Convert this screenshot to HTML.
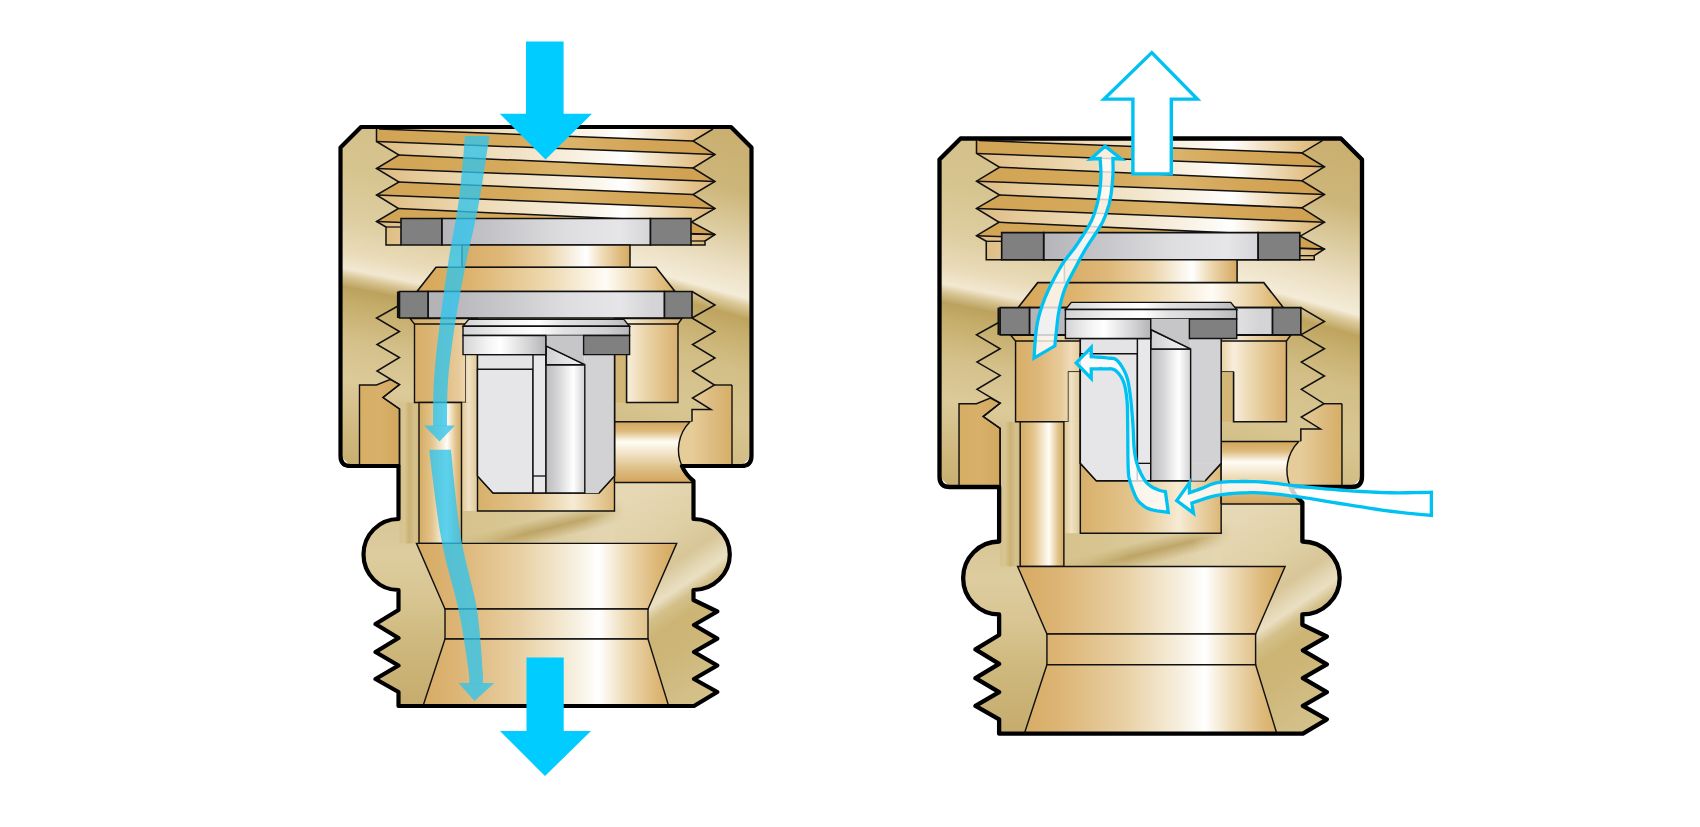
<!DOCTYPE html>
<html><head><meta charset="utf-8"><title>Vacuum breaker</title>
<style>html,body{margin:0;padding:0;background:#fff;width:1700px;height:827px;overflow:hidden;font-family:"Liberation Sans",sans-serif}svg{display:block}</style>
</head><body>
<svg width="1700" height="827" viewBox="0 0 1700 827">
<defs><linearGradient id="gCapL" gradientUnits="userSpaceOnUse" x1="379.3" y1="91.4" x2="304.8" y2="464.2"><stop offset="0" stop-color="#D2BC86"/><stop offset="0.21" stop-color="#D6C48E"/><stop offset="0.342" stop-color="#DECDA0"/><stop offset="0.434" stop-color="#EADCBA"/><stop offset="0.474" stop-color="#F2E8D2"/><stop offset="0.495" stop-color="#D8C494"/><stop offset="0.521" stop-color="#BBA25E"/><stop offset="0.566" stop-color="#C6AE6C"/><stop offset="0.658" stop-color="#D4C08A"/><stop offset="0.763" stop-color="#DCCA9A"/><stop offset="0.895" stop-color="#D0B87E"/><stop offset="1" stop-color="#C6AC6C"/></linearGradient><linearGradient id="gCapR" gradientUnits="userSpaceOnUse" x1="705.5" y1="110.2" x2="601.1" y2="486"><stop offset="0" stop-color="#C8AE6E"/><stop offset="0.179" stop-color="#CDB67A"/><stop offset="0.282" stop-color="#DCCCA0"/><stop offset="0.372" stop-color="#ECE0C4"/><stop offset="0.436" stop-color="#F4ECD8"/><stop offset="0.456" stop-color="#DCCA9C"/><stop offset="0.487" stop-color="#BEA45E"/><stop offset="0.538" stop-color="#C8B070"/><stop offset="0.615" stop-color="#D2BE86"/><stop offset="0.744" stop-color="#D8C692"/><stop offset="0.897" stop-color="#CFB87E"/><stop offset="1" stop-color="#C8AE70"/></linearGradient><linearGradient id="gLowL" gradientUnits="userSpaceOnUse" x1="0" y1="466" x2="0" y2="706"><stop offset="0" stop-color="#D4C08A"/><stop offset="0.22" stop-color="#D8C696"/><stop offset="0.37" stop-color="#DDCC9E"/><stop offset="0.55" stop-color="#D8C592"/><stop offset="0.72" stop-color="#CFB97E"/><stop offset="0.92" stop-color="#C8AF72"/><stop offset="1" stop-color="#C6AC6E"/></linearGradient><linearGradient id="gLowR" gradientUnits="userSpaceOnUse" x1="552.8" y1="458.17" x2="727.11" y2="714.54"><stop offset="0" stop-color="#E4D6B0"/><stop offset="0.242" stop-color="#E6D8B4"/><stop offset="0.403" stop-color="#DFD0A6"/><stop offset="0.5" stop-color="#D8C698"/><stop offset="0.55" stop-color="#E4D8B6"/><stop offset="0.575" stop-color="#EADFC2"/><stop offset="0.61" stop-color="#D4C08A"/><stop offset="0.66" stop-color="#CBB474"/><stop offset="0.74" stop-color="#CDB678"/><stop offset="0.86" stop-color="#D2BE86"/><stop offset="1" stop-color="#D8C490"/></linearGradient><linearGradient id="gIn" gradientUnits="userSpaceOnUse" x1="462" y1="0" x2="614.5" y2="0"><stop offset="0" stop-color="#D6C28C"/><stop offset="0.3" stop-color="#D8C692"/><stop offset="0.6" stop-color="#DCCCA0"/><stop offset="0.85" stop-color="#E2D4AE"/><stop offset="1" stop-color="#E4D6B0"/></linearGradient><linearGradient id="gStreak" gradientUnits="userSpaceOnUse" x1="542.11" y1="515.52" x2="548.89" y2="542.68"><stop offset="0" stop-color="#B89C58"/><stop offset="0.3" stop-color="#C0A562"/><stop offset="0.55" stop-color="#B89C58"/><stop offset="1" stop-color="#B89C58"/></linearGradient><linearGradient id="gStreakA" gradientUnits="userSpaceOnUse" x1="542.59" y1="517.46" x2="548.41" y2="540.74"><stop offset="0" stop-color="#B49854" stop-opacity="0"/><stop offset="0.5" stop-color="#B49854" stop-opacity="0.75"/><stop offset="1" stop-color="#B49854" stop-opacity="0"/></linearGradient><linearGradient id="gStreakL" gradientUnits="userSpaceOnUse" x1="470" y1="0" x2="625" y2="0"><stop offset="0" stop-color="#fff" stop-opacity="0.2"/><stop offset="0.35" stop-color="#fff" stop-opacity="1"/><stop offset="0.75" stop-color="#fff" stop-opacity="1"/><stop offset="1" stop-color="#fff" stop-opacity="0"/></linearGradient><linearGradient id="gThL" gradientUnits="userSpaceOnUse" x1="376" y1="0" x2="716" y2="0"><stop offset="0" stop-color="#DCBA80"/><stop offset="0.1" stop-color="#E4C794"/><stop offset="0.3" stop-color="#EEDAB4"/><stop offset="0.5" stop-color="#F4E8D2"/><stop offset="0.65" stop-color="#FBF6EC"/><stop offset="0.73" stop-color="#FFFFFF"/><stop offset="0.82" stop-color="#F2E2C6"/><stop offset="0.92" stop-color="#E4C690"/><stop offset="1" stop-color="#DAB070"/></linearGradient><linearGradient id="gThD" gradientUnits="userSpaceOnUse" x1="376" y1="0" x2="716" y2="0"><stop offset="0" stop-color="#D2A455"/><stop offset="0.4" stop-color="#D6AA5C"/><stop offset="0.55" stop-color="#DBB46C"/><stop offset="0.75" stop-color="#D4A658"/><stop offset="1" stop-color="#CFA050"/></linearGradient><linearGradient id="gNeck" gradientUnits="userSpaceOnUse" x1="462" y1="0" x2="630" y2="0"><stop offset="0" stop-color="#D8AC66"/><stop offset="0.25" stop-color="#DFB879"/><stop offset="0.5" stop-color="#EBD3A8"/><stop offset="0.66" stop-color="#F8F0E2"/><stop offset="0.74" stop-color="#FFFFFF"/><stop offset="0.84" stop-color="#EEDAB4"/><stop offset="1" stop-color="#D5A860"/></linearGradient><linearGradient id="gCone" gradientUnits="userSpaceOnUse" x1="417" y1="0" x2="675" y2="0"><stop offset="0" stop-color="#D6A658"/><stop offset="0.2" stop-color="#DDB26C"/><stop offset="0.5" stop-color="#EDD8AE"/><stop offset="0.73" stop-color="#FFFCF6"/><stop offset="0.88" stop-color="#EBD3A6"/><stop offset="1" stop-color="#D8AC60"/></linearGradient><linearGradient id="gFun" gradientUnits="userSpaceOnUse" x1="416" y1="0" x2="677" y2="0"><stop offset="0" stop-color="#D6AA62"/><stop offset="0.15" stop-color="#DCB474"/><stop offset="0.4" stop-color="#E8D0A4"/><stop offset="0.6" stop-color="#F6EEDC"/><stop offset="0.7" stop-color="#FFFFFF"/><stop offset="0.8" stop-color="#EEDCB8"/><stop offset="0.92" stop-color="#DDB878"/><stop offset="1" stop-color="#D4A85E"/></linearGradient><linearGradient id="gTube" gradientUnits="userSpaceOnUse" x1="419" y1="0" x2="462" y2="0"><stop offset="0" stop-color="#D5AC62"/><stop offset="0.3" stop-color="#E3C48C"/><stop offset="0.65" stop-color="#FFFDF6"/><stop offset="0.85" stop-color="#E2C58E"/><stop offset="1" stop-color="#D3A85E"/></linearGradient><linearGradient id="gWallL" gradientUnits="userSpaceOnUse" x1="414" y1="0" x2="478" y2="0"><stop offset="0" stop-color="#D8AE66"/><stop offset="0.35" stop-color="#DDB77A"/><stop offset="0.7" stop-color="#E8CB9A"/><stop offset="0.85" stop-color="#F0DCB8"/><stop offset="1" stop-color="#E5CC9C"/></linearGradient><linearGradient id="gWallR" gradientUnits="userSpaceOnUse" x1="614" y1="0" x2="678" y2="0"><stop offset="0" stop-color="#E8D0A0"/><stop offset="0.2" stop-color="#F8EEDC"/><stop offset="0.5" stop-color="#EAD4A8"/><stop offset="0.8" stop-color="#E0BE84"/><stop offset="1" stop-color="#D9B070"/></linearGradient><linearGradient id="gStrip" gradientUnits="userSpaceOnUse" x1="399.5" y1="0" x2="419" y2="0"><stop offset="0" stop-color="#D6C28E"/><stop offset="0.25" stop-color="#D8C592"/><stop offset="0.5" stop-color="#CAB274"/><stop offset="0.78" stop-color="#D6C08C"/><stop offset="1" stop-color="#D2BA80"/></linearGradient><linearGradient id="gGap" gradientUnits="userSpaceOnUse" x1="461" y1="0" x2="478" y2="0"><stop offset="0" stop-color="#DEC48E"/><stop offset="0.45" stop-color="#F0E2C4"/><stop offset="1" stop-color="#DCC794"/></linearGradient><linearGradient id="gPort" gradientUnits="userSpaceOnUse" x1="0" y1="422" x2="0" y2="482"><stop offset="0" stop-color="#D2A65C"/><stop offset="0.15" stop-color="#DDBA7C"/><stop offset="0.33" stop-color="#FFFDF6"/><stop offset="0.55" stop-color="#F0E0C0"/><stop offset="0.8" stop-color="#DCBC82"/><stop offset="1" stop-color="#D4A65E"/></linearGradient><linearGradient id="gLipL" gradientUnits="userSpaceOnUse" x1="359" y1="0" x2="400" y2="0"><stop offset="0" stop-color="#D6AE64"/><stop offset="0.5" stop-color="#D9B06A"/><stop offset="1" stop-color="#D2A85E"/></linearGradient><linearGradient id="gLipR" gradientUnits="userSpaceOnUse" x1="692" y1="0" x2="732" y2="0"><stop offset="0" stop-color="#E6CC98"/><stop offset="0.5" stop-color="#DDBC82"/><stop offset="1" stop-color="#D6AE66"/></linearGradient><linearGradient id="gCav" gradientUnits="userSpaceOnUse" x1="478" y1="0" x2="614" y2="0"><stop offset="0" stop-color="#D8B06A"/><stop offset="0.4" stop-color="#E4C690"/><stop offset="0.7" stop-color="#F6EBD4"/><stop offset="1" stop-color="#DCB878"/></linearGradient><linearGradient id="gWash" gradientUnits="userSpaceOnUse" x1="440" y1="0" x2="652" y2="0"><stop offset="0" stop-color="#B4B4B8"/><stop offset="0.3" stop-color="#C8C8CC"/><stop offset="0.6" stop-color="#DEDEE0"/><stop offset="0.85" stop-color="#E6E6E8"/><stop offset="1" stop-color="#D4D4D6"/></linearGradient><linearGradient id="gPcap" gradientUnits="userSpaceOnUse" x1="463" y1="0" x2="630" y2="0"><stop offset="0" stop-color="#D2D2D4"/><stop offset="0.25" stop-color="#F2F2F2"/><stop offset="0.45" stop-color="#FFFFFF"/><stop offset="0.6" stop-color="#E2E2E4"/><stop offset="0.85" stop-color="#D0D0D2"/><stop offset="1" stop-color="#B8B8BA"/></linearGradient><linearGradient id="gPleft" gradientUnits="userSpaceOnUse" x1="463" y1="0" x2="546" y2="0"><stop offset="0" stop-color="#D4D4D6"/><stop offset="0.3" stop-color="#F4F4F4"/><stop offset="0.45" stop-color="#FFFFFF"/><stop offset="0.8" stop-color="#D2D2D4"/><stop offset="1" stop-color="#B4B4B6"/></linearGradient><linearGradient id="gPin" gradientUnits="userSpaceOnUse" x1="546" y1="0" x2="585" y2="0"><stop offset="0" stop-color="#BDBDBF"/><stop offset="0.3" stop-color="#D4D4D6"/><stop offset="0.7" stop-color="#FFFFFF"/><stop offset="1" stop-color="#D0D0D2"/></linearGradient><linearGradient id="gPinTop" gradientUnits="userSpaceOnUse" x1="546" y1="0" x2="585" y2="0"><stop offset="0" stop-color="#CFCFD1"/><stop offset="0.5" stop-color="#E4E4E6"/><stop offset="1" stop-color="#F2F2F2"/></linearGradient></defs>
<rect width="1700" height="827" fill="#FFFFFF"/>
<g id="left"><path d="M340.5,147.5 L361,127 L546.5,127 L546.5,466 L350.5,466 L340.5,456 Z" fill="url(#gCapL)" stroke="none"/>
<path d="M545.5,127 L731,127 L751.5,147.5 L751.5,456 L741.5,466 L545.5,466 Z" fill="url(#gCapR)" stroke="none"/>
<clipPath id="cpLowL0"><rect x="300" y="440" width="246.5" height="300"/></clipPath>
<clipPath id="cpLowR0"><rect x="545.5" y="440" width="250" height="300"/></clipPath>
<path d="M398.5,465.5 L681.9,465.5 A39.8,39.8 0 0 0 693.5,481 L693.5,519 A36.3,35.5 0 0 1 693.5,590 L693.5,600 L717.3,611.5 L694,625 L717.3,638.6 L694,652 L717.3,665.5 L694,679 L717.3,692 L694,706 L398.5,706 L398.5,692 L375.5,679 L398.5,665.5 L375.5,652 L398.5,638 L375.5,624 L398.5,610 L398.5,590 A35,35.5 0 0 1 398.5,519 Z" fill="url(#gLowL)" clip-path="url(#cpLowL0)"/>
<path d="M398.5,465.5 L681.9,465.5 A39.8,39.8 0 0 0 693.5,481 L693.5,519 A36.3,35.5 0 0 1 693.5,590 L693.5,600 L717.3,611.5 L694,625 L717.3,638.6 L694,652 L717.3,665.5 L694,679 L717.3,692 L694,706 L398.5,706 L398.5,692 L375.5,679 L398.5,665.5 L375.5,652 L398.5,638 L375.5,624 L398.5,610 L398.5,590 A35,35.5 0 0 1 398.5,519 Z" fill="url(#gLowR)" clip-path="url(#cpLowR0)"/>
<path d="M399.5,402.5 L419.5,402.5 L419.5,543.4 L399.5,543.4 Z" fill="url(#gStrip)" stroke="none"/>
<path d="M461.5,482.5 L614.5,482.5 L614.5,543.4 L461.5,543.4 Z" fill="url(#gIn)" stroke="none"/>
<mask id="mkStreak0"><rect x="400" y="470" width="300" height="90" fill="url(#gStreakL)"/></mask>
<path d="M437.1,543.9 L647.1,491.4 L652.9,514.6 L442.9,567.1 Z" fill="url(#gStreakA)" mask="url(#mkStreak0)"/>
<path d="M379,129 L713,129 L693,141 Z" fill="url(#gThL)" stroke="none"/>
<path d="M376.5,129 L379,129 L693,141 L715,154.5 L376.5,141.5 Z" fill="url(#gThD)" stroke="none"/>
<path d="M376.5,141.5 L715,154.5 L693,168 L399,155 Z" fill="url(#gThL)" stroke="none"/>
<path d="M399,155 L693,168 L715,181.5 L376.5,168.5 Z" fill="url(#gThD)" stroke="none"/>
<path d="M376.5,168.5 L715,181.5 L693,194.5 L399,182 Z" fill="url(#gThL)" stroke="none"/>
<path d="M399,182 L693,194.5 L715,208.5 L376.5,195 Z" fill="url(#gThD)" stroke="none"/>
<path d="M376.5,195 L715,208.5 L691.5,222 L398.5,208.5 Z" fill="url(#gThL)" stroke="none"/>
<path d="M398.5,208.5 L691.5,222 L715,234.5 L376.5,221.5 Z" fill="url(#gThD)" stroke="none"/>
<path d="M376.5,221.5 L400,222.6 L401,245 L386,245 L386,227 Z" fill="url(#gThL)" stroke="none"/>
<path d="M715,234.5 L690,233.5 L690,245 L705,245 L705,241 Z" fill="url(#gThL)" stroke="none"/>
<path d="M379,129 L693,141" fill="none" stroke="#111" stroke-width="1.5" stroke-linejoin="miter"/>
<path d="M376.5,141.5 L715,154.5" fill="none" stroke="#111" stroke-width="1.5" stroke-linejoin="miter"/>
<path d="M399,155 L693,168" fill="none" stroke="#111" stroke-width="1.5" stroke-linejoin="miter"/>
<path d="M376.5,168.5 L715,181.5" fill="none" stroke="#111" stroke-width="1.5" stroke-linejoin="miter"/>
<path d="M399,182 L693,194.5" fill="none" stroke="#111" stroke-width="1.5" stroke-linejoin="miter"/>
<path d="M376.5,195 L715,208.5" fill="none" stroke="#111" stroke-width="1.5" stroke-linejoin="miter"/>
<path d="M398.5,208.5 L691.5,222" fill="none" stroke="#111" stroke-width="1.5" stroke-linejoin="miter"/>
<path d="M376.5,221.5 L715,234.5" fill="none" stroke="#111" stroke-width="1.5" stroke-linejoin="miter"/>
<path d="M376.5,129 L376.5,141.5 L399,155 L376.5,168.5 L399,182 L376.5,195 L398.5,208.5 L376.5,221.5 L386,227 L386,245 L401,245" fill="none" stroke="#111" stroke-width="1.5" stroke-linejoin="miter"/>
<path d="M386,227 L401,227" fill="none" stroke="#111" stroke-width="1.3" stroke-linejoin="miter"/>
<path d="M713,129 L693,141 L715,154.5 L693,168 L715,181.5 L693,194.5 L715,208.5 L691.5,222 L715,234.5 L705,241 L705,245 L690,245" fill="none" stroke="#111" stroke-width="1.5" stroke-linejoin="miter"/>
<path d="M691,241 L705,241" fill="none" stroke="#111" stroke-width="1.3" stroke-linejoin="miter"/>
<path d="M691,234.2 L715,234.5" fill="none" stroke="#111" stroke-width="1.3" stroke-linejoin="miter"/>
<path d="M441.8,218.5 L650.5,218.5 L650.5,245 L441.8,245 Z" fill="url(#gWash)" stroke="#111" stroke-width="1.6" stroke-linejoin="miter"/>
<path d="M401,218.5 L441.8,218.5 L441.8,245 L401,245 Z" fill="#808081" stroke="#111" stroke-width="1.6" stroke-linejoin="miter"/>
<path d="M650.5,218.5 L691,218.5 L691,245 L650.5,245 Z" fill="#808081" stroke="#111" stroke-width="1.6" stroke-linejoin="miter"/>
<path d="M462,245 L630,245 L630,267.5 L462,267.5 Z" fill="url(#gNeck)" stroke="#111" stroke-width="1.5" stroke-linejoin="miter"/>
<path d="M436,267.2 L656,267.2 L675,291.5 L417,291.5 Z" fill="url(#gCone)" stroke="#111" stroke-width="1.6" stroke-linejoin="miter"/>
<path d="M359.5,466 L359.5,385 L376.5,385 L390,379.5 L399.5,384.5 L383,397.5 L399.5,409 L399.5,466 Z" fill="url(#gLipL)" stroke="#111" stroke-width="1.4" stroke-linejoin="miter"/>
<path d="M714.5,385 L732,385 L732,466 L690,466 L692,421.8 L692,409.5 L711,409.5 L692.5,398 Z" fill="url(#gLipR)" stroke="none"/>
<path d="M714.5,385 L732,385" fill="none" stroke="#111" stroke-width="1.4" stroke-linejoin="miter"/>
<path d="M398,306 L376.5,318 L399.5,331.5 L377,344.5 L399.5,357.5 L377,371 L399.5,384.5 L383,397.5 L399.5,409 L399.5,466" fill="none" stroke="#111" stroke-width="1.5" stroke-linejoin="miter"/>
<path d="M692,318 L715,331.5 L692.5,344.5 L715,358 L692.5,371 L714.5,385 L692.5,398 L711,409.5 L692,409.5 L692,421.8" fill="none" stroke="#111" stroke-width="1.5" stroke-linejoin="miter"/>
<path d="M428,291.5 L664.5,291.5 L664.5,318 L428,318 Z" fill="url(#gWash)" stroke="#111" stroke-width="1.6" stroke-linejoin="miter"/>
<path d="M399.5,291.5 L428,291.5 L428,318 L399.5,318 Z" fill="#808081" stroke="#111" stroke-width="1.6" stroke-linejoin="miter"/>
<path d="M398,291.5 L398,318" fill="none" stroke="#111" stroke-width="2.2" stroke-linejoin="miter"/>
<path d="M664.5,291.5 L692,291.5 L692,318 L664.5,318 Z" fill="#808081" stroke="#111" stroke-width="1.6" stroke-linejoin="miter"/>
<path d="M692,291.5 L715,305 L692,318" fill="none" stroke="#111" stroke-width="1.5" stroke-linejoin="miter"/>
<path d="M410,318.5 L468.5,318.5 L477.5,318.5 L477.5,354.2 L466,354.2 L466,402.5 L414.5,402.5 L414.5,324 Z" fill="url(#gWallL)" stroke="#111" stroke-width="1.4" stroke-linejoin="miter"/>
<path d="M414.5,324 L477.5,324" fill="none" stroke="#111" stroke-width="1.3" stroke-linejoin="miter"/>
<path d="M614.5,318.5 L682,318.5 L678,324 L678,402.5 L626.5,402.5 L626.5,354.2 L614.5,354.2 Z" fill="url(#gWallR)" stroke="#111" stroke-width="1.4" stroke-linejoin="miter"/>
<path d="M614.5,324 L678,324" fill="none" stroke="#111" stroke-width="1.3" stroke-linejoin="miter"/>
<path d="M466,354.2 L477.5,354.2 L477.5,402.5 L466,402.5 Z" fill="url(#gGap)" stroke="none"/>
<path d="M461.5,402.5 L477.5,402.5 L477.5,511 L461.5,511 Z" fill="url(#gGap)" stroke="none"/>
<path d="M614.5,354.2 L626.5,354.2 L626.5,402.5 L614.5,402.5 Z" fill="#D3B676" stroke="none"/>
<path d="M626.5,354.2 L626.5,402.5" fill="none" stroke="#111" stroke-width="1.4" stroke-linejoin="miter"/>
<path d="M419,402.5 L461.5,402.5 L461.5,543.4 L419,543.4 Z" fill="url(#gTube)" stroke="#111" stroke-width="1.4" stroke-linejoin="miter"/>
<path d="M477.5,354.2 L614.5,354.2 L614.5,511 L477.5,511 Z" fill="url(#gCav)" stroke="#111" stroke-width="1.4" stroke-linejoin="miter"/>
<path d="M614.5,421.8 L690,421.8 A39.8,39.8 0 0 0 693.5,481 L693.5,482.5 L614.5,482.5 Z" fill="url(#gPort)"/>
<path d="M614.5,421.8 L692,421.8" fill="none" stroke="#111" stroke-width="1.4" stroke-linejoin="miter"/>
<path d="M614.5,482.5 L693.5,482.5" fill="none" stroke="#111" stroke-width="1.4" stroke-linejoin="miter"/>
<path d="M614.5,421.8 L614.5,482.5" fill="none" stroke="#111" stroke-width="1.4" stroke-linejoin="miter"/>
<path d="M690,421.8 A39.8,39.8 0 0 0 681.9,466 L732,466 L732,421.8 Z" fill="url(#gLipR)"/>
<path d="M690,421.8 A39.8,39.8 0 0 0 681.9,466" fill="none" stroke="#111" stroke-width="1.4"/>
<path d="M732,385 L732,466" fill="none" stroke="#111" stroke-width="1.4" stroke-linejoin="miter"/>
<path d="M416.5,543.4 L676.7,543.4 L648,609 L445,609 Z" fill="url(#gFun)" stroke="#111" stroke-width="1.4" stroke-linejoin="miter"/>
<path d="M445,609 L648,609 L648,639 L445,639 Z" fill="url(#gFun)" stroke="#111" stroke-width="1.4" stroke-linejoin="miter"/>
<path d="M445,639 L648,639 L668.7,706 L423,706 Z" fill="url(#gFun)" stroke="#111" stroke-width="1.4" stroke-linejoin="miter"/>
<g transform="translate(0,0)">
<path d="M477.5,354.6 L614.5,354.6 L614.5,476 L599,493 L493,493 L477.5,476 Z" fill="#E4E4E6" stroke="#111" stroke-width="1.4" stroke-linejoin="miter"/>
<path d="M584.8,354.6 L614.5,354.6 L614.5,476 L584.8,476 Z" fill="#D2D2D4" stroke="none"/>
<path d="M584.8,476 L614.5,476 L599,493 L584.8,493 Z" fill="#D2D2D4" stroke="none"/>
<path d="M614.5,354.6 L614.5,476 L599,493" fill="none" stroke="#111" stroke-width="1.4" stroke-linejoin="miter"/>
<path d="M477.5,369.3 L533,369.3 L533,493 L493,493 L477.5,476 Z" fill="#E6E6E8" stroke="#111" stroke-width="1.4" stroke-linejoin="miter"/>
<path d="M533,354.6 L546,354.6 L546,493 L533,493 Z" fill="#E8E8EA" stroke="#111" stroke-width="1.4" stroke-linejoin="miter"/>
<path d="M533,476 L546,476" fill="none" stroke="#111" stroke-width="1.3" stroke-linejoin="miter"/>
<path d="M546,364.7 L584.8,364.7 L584.8,493 L546,493 Z" fill="url(#gPin)" stroke="#111" stroke-width="1.4" stroke-linejoin="miter"/>
<path d="M546,345.8 L584.8,364.7 L546,364.7 Z" fill="url(#gPinTop)" stroke="#111" stroke-width="1.4" stroke-linejoin="miter"/>
<path d="M468.7,319.4 L623.8,319.4 L629.6,326.3 L463,326.3 Z" fill="url(#gPcap)" stroke="#111" stroke-width="1.4" stroke-linejoin="miter"/>
<path d="M463,326.3 L629.6,326.3 L629.6,335.5 L463,335.5 Z" fill="url(#gPcap)" stroke="#111" stroke-width="1.4" stroke-linejoin="miter"/>
<path d="M463,335.5 L546,335.5 L546,354.6 L463,354.6 Z" fill="url(#gPleft)" stroke="#111" stroke-width="1.4" stroke-linejoin="miter"/>
<path d="M546,335.5 L583.6,335.5 L583.6,354.6 L584.8,364.7 L546,345.8 Z" fill="#C6C6C8" stroke="none"/>
<path d="M546,335.5 L546,364.7" fill="none" stroke="#111" stroke-width="1.4" stroke-linejoin="miter"/>
<path d="M546,345.8 L584.8,364.7" fill="none" stroke="#111" stroke-width="1.4" stroke-linejoin="miter"/>
<path d="M583.6,335.5 L629.6,335.5 L629.6,354.6 L583.6,354.6 Z" fill="#808081" stroke="#111" stroke-width="1.4" stroke-linejoin="miter"/>
</g>
<path d="M340.5,147.5 L361,127 L731,127 L751.5,147.5 L751.5,456 Q751.5,466 741.5,466 L681.9,466 A39.8,39.8 0 0 0 693.5,481 L693.5,519 A36.3,35.5 0 0 1 693.5,590 L693.5,600 L717.3,611.5 L694,625 L717.3,638.6 L694,652 L717.3,665.5 L694,679 L717.3,692 L694,706 L398.5,706 L398.5,692 L375.5,679 L398.5,665.5 L375.5,652 L398.5,638 L375.5,624 L398.5,610 L398.5,590 A35,35.5 0 0 1 398.5,519 L398.5,466 L350.5,466 Q340.5,466 340.5,456 Z" fill="none" stroke="#000" stroke-width="4.2" stroke-linejoin="round"/></g>
<path d="M464.95,136 L464.75,138.57 L464.34,143.84 L463.82,150.06 L463.2,157 L462.52,164.46 L461.78,172.19 L461,179.99 L460.2,187.61 L459.41,194.83 L458.62,201.42 L457.75,207.5 L456.81,213.45 L455.83,219.3 L454.81,225.08 L453.76,230.84 L452.7,236.61 L451.63,242.43 L450.59,248.33 L449.56,254.34 L448.59,260.47 L447.63,266.71 L446.67,273.05 L445.72,279.48 L444.77,285.97 L443.85,292.47 L442.95,298.95 L442.09,305.38 L441.27,311.72 L440.49,317.93 L439.77,323.97 L439.02,329.87 L438.3,335.7 L437.61,341.45 L436.95,347.13 L436.34,352.73 L435.77,358.25 L435.24,363.7 L434.78,369.05 L434.37,374.32 L434.02,379.52 L433.69,384.81 L433.46,390.25 L433.29,395.73 L433.18,401.14 L433.11,406.37 L433.08,411.31 L433.06,415.84 L433.05,419.86 L433.04,423.24 L433,425.91 L447,426.09 L447.04,423.36 L447.05,419.91 L447.06,415.89 L447.08,411.38 L447.11,406.51 L447.18,401.37 L447.28,396.09 L447.45,390.77 L447.68,385.54 L447.98,380.48 L448.42,375.48 L448.92,370.36 L449.47,365.13 L450.08,359.81 L450.74,354.39 L451.44,348.89 L452.19,343.29 L452.97,337.62 L453.79,331.86 L454.63,326.03 L455.59,320.08 L456.6,313.98 L457.66,307.75 L458.76,301.42 L459.9,295.03 L461.06,288.62 L462.24,282.23 L463.43,275.89 L464.63,269.64 L465.81,263.53 L467.03,257.61 L468.28,251.82 L469.58,246.09 L470.89,240.38 L472.22,234.66 L473.54,228.89 L474.86,223.03 L476.14,217.05 L477.39,210.91 L478.58,204.58 L479.82,197.81 L481.07,190.47 L482.31,182.77 L483.53,174.93 L484.7,167.17 L485.82,159.72 L486.86,152.8 L487.81,146.64 L488.65,141.48 L489.45,136 Z" fill="#30C4EC" fill-opacity="0.78"/>
<path d="M424,425.5 L455,425.5 L439.5,441.5 Z" fill="#30C4EC" fill-opacity="0.78"/>
<path d="M429.1,449.8 L429.91,456.34 L430.79,463.21 L431.81,471.41 L432.94,480.61 L434.17,490.51 L435.5,500.78 L436.89,511.11 L438.33,521.21 L439.82,530.76 L441.35,539.48 L442.94,547.6 L444.69,555.5 L446.55,563.17 L448.48,570.62 L450.41,577.86 L452.32,584.9 L454.15,591.74 L455.86,598.4 L457.41,604.87 L458.76,611.19 L460.09,617.54 L461.33,624.03 L462.48,630.53 L463.53,636.95 L464.51,643.21 L465.4,649.2 L466.23,654.84 L466.99,660.04 L467.69,664.72 L468.34,668.74 L468.71,672.04 L468.96,674.64 L469.12,676.68 L469.21,678.23 L469.25,679.38 L469.26,680.25 L469.24,680.98 L469.22,681.75 L469.21,682.7 L469.25,683.6 L482.75,683.4 L482.76,682.84 L482.81,682.41 L482.87,681.71 L482.95,680.71 L483,679.43 L483.01,677.85 L482.95,675.92 L482.82,673.56 L482.59,670.69 L482.26,667.26 L482.03,663.19 L481.75,658.49 L481.4,653.21 L480.99,647.46 L480.49,641.32 L479.92,634.88 L479.26,628.22 L478.5,621.44 L477.63,614.61 L476.64,607.81 L475.34,601.01 L473.84,594.13 L472.21,587.2 L470.48,580.2 L468.71,573.12 L466.94,565.95 L465.2,558.68 L463.55,551.29 L462.02,543.78 L460.65,536.12 L459.42,527.77 L458.18,518.46 L456.98,508.54 L455.83,498.32 L454.74,488.13 L453.73,478.28 L452.82,469.08 L452.02,460.85 L451.35,453.88 L450.9,449.8 Z" fill="#30C4EC" fill-opacity="0.78"/>
<path d="M458.5,683 L494.3,683 L474.5,701 Z" fill="#30C4EC" fill-opacity="0.78"/>
<path d="M526,41.5 L563.6,41.5 L563.6,113.8 L592,113.8 L545.5,159.5 L499.8,113.8 L526,113.8 Z" fill="#00CCFF" stroke="none"/>
<path d="M526.5,657.5 L563.7,657.5 L563.7,731 L591,731 L545,776 L500,731 L526.5,731 Z" fill="#00CCFF" stroke="none"/>
<g id="right" transform="translate(1150.75,138.5) scale(1.028) translate(-546,-127)"><path d="M340.5,147.5 L361,127 L546.5,127 L546.5,466 L350.5,466 L340.5,456 Z" fill="url(#gCapL)" stroke="none"/>
<path d="M545.5,127 L731,127 L751.5,147.5 L751.5,456 L741.5,466 L545.5,466 Z" fill="url(#gCapR)" stroke="none"/>
<clipPath id="cpLowL1"><rect x="300" y="440" width="246.5" height="300"/></clipPath>
<clipPath id="cpLowR1"><rect x="545.5" y="440" width="250" height="300"/></clipPath>
<path d="M398.5,465.5 L681.9,465.5 A39.8,39.8 0 0 0 693.5,481 L693.5,519 A36.3,35.5 0 0 1 693.5,590 L693.5,600 L717.3,611.5 L694,625 L717.3,638.6 L694,652 L717.3,665.5 L694,679 L717.3,692 L694,706 L398.5,706 L398.5,692 L375.5,679 L398.5,665.5 L375.5,652 L398.5,638 L375.5,624 L398.5,610 L398.5,590 A35,35.5 0 0 1 398.5,519 Z" fill="url(#gLowL)" clip-path="url(#cpLowL1)"/>
<path d="M398.5,465.5 L681.9,465.5 A39.8,39.8 0 0 0 693.5,481 L693.5,519 A36.3,35.5 0 0 1 693.5,590 L693.5,600 L717.3,611.5 L694,625 L717.3,638.6 L694,652 L717.3,665.5 L694,679 L717.3,692 L694,706 L398.5,706 L398.5,692 L375.5,679 L398.5,665.5 L375.5,652 L398.5,638 L375.5,624 L398.5,610 L398.5,590 A35,35.5 0 0 1 398.5,519 Z" fill="url(#gLowR)" clip-path="url(#cpLowR1)"/>
<path d="M399.5,402.5 L419.5,402.5 L419.5,543.4 L399.5,543.4 Z" fill="url(#gStrip)" stroke="none"/>
<path d="M461.5,482.5 L614.5,482.5 L614.5,543.4 L461.5,543.4 Z" fill="url(#gIn)" stroke="none"/>
<mask id="mkStreak1"><rect x="400" y="470" width="300" height="90" fill="url(#gStreakL)"/></mask>
<path d="M437.1,543.9 L647.1,491.4 L652.9,514.6 L442.9,567.1 Z" fill="url(#gStreakA)" mask="url(#mkStreak1)"/>
<path d="M379,129 L713,129 L693,141 Z" fill="url(#gThL)" stroke="none"/>
<path d="M376.5,129 L379,129 L693,141 L715,154.5 L376.5,141.5 Z" fill="url(#gThD)" stroke="none"/>
<path d="M376.5,141.5 L715,154.5 L693,168 L399,155 Z" fill="url(#gThL)" stroke="none"/>
<path d="M399,155 L693,168 L715,181.5 L376.5,168.5 Z" fill="url(#gThD)" stroke="none"/>
<path d="M376.5,168.5 L715,181.5 L693,194.5 L399,182 Z" fill="url(#gThL)" stroke="none"/>
<path d="M399,182 L693,194.5 L715,208.5 L376.5,195 Z" fill="url(#gThD)" stroke="none"/>
<path d="M376.5,195 L715,208.5 L691.5,222 L398.5,208.5 Z" fill="url(#gThL)" stroke="none"/>
<path d="M398.5,208.5 L691.5,222 L715,234.5 L376.5,221.5 Z" fill="url(#gThD)" stroke="none"/>
<path d="M376.5,221.5 L400,222.6 L401,245 L386,245 L386,227 Z" fill="url(#gThL)" stroke="none"/>
<path d="M715,234.5 L690,233.5 L690,245 L705,245 L705,241 Z" fill="url(#gThL)" stroke="none"/>
<path d="M379,129 L693,141" fill="none" stroke="#111" stroke-width="1.5" stroke-linejoin="miter"/>
<path d="M376.5,141.5 L715,154.5" fill="none" stroke="#111" stroke-width="1.5" stroke-linejoin="miter"/>
<path d="M399,155 L693,168" fill="none" stroke="#111" stroke-width="1.5" stroke-linejoin="miter"/>
<path d="M376.5,168.5 L715,181.5" fill="none" stroke="#111" stroke-width="1.5" stroke-linejoin="miter"/>
<path d="M399,182 L693,194.5" fill="none" stroke="#111" stroke-width="1.5" stroke-linejoin="miter"/>
<path d="M376.5,195 L715,208.5" fill="none" stroke="#111" stroke-width="1.5" stroke-linejoin="miter"/>
<path d="M398.5,208.5 L691.5,222" fill="none" stroke="#111" stroke-width="1.5" stroke-linejoin="miter"/>
<path d="M376.5,221.5 L715,234.5" fill="none" stroke="#111" stroke-width="1.5" stroke-linejoin="miter"/>
<path d="M376.5,129 L376.5,141.5 L399,155 L376.5,168.5 L399,182 L376.5,195 L398.5,208.5 L376.5,221.5 L386,227 L386,245 L401,245" fill="none" stroke="#111" stroke-width="1.5" stroke-linejoin="miter"/>
<path d="M386,227 L401,227" fill="none" stroke="#111" stroke-width="1.3" stroke-linejoin="miter"/>
<path d="M713,129 L693,141 L715,154.5 L693,168 L715,181.5 L693,194.5 L715,208.5 L691.5,222 L715,234.5 L705,241 L705,245 L690,245" fill="none" stroke="#111" stroke-width="1.5" stroke-linejoin="miter"/>
<path d="M691,241 L705,241" fill="none" stroke="#111" stroke-width="1.3" stroke-linejoin="miter"/>
<path d="M691,234.2 L715,234.5" fill="none" stroke="#111" stroke-width="1.3" stroke-linejoin="miter"/>
<path d="M441.8,218.5 L650.5,218.5 L650.5,245 L441.8,245 Z" fill="url(#gWash)" stroke="#111" stroke-width="1.6" stroke-linejoin="miter"/>
<path d="M401,218.5 L441.8,218.5 L441.8,245 L401,245 Z" fill="#808081" stroke="#111" stroke-width="1.6" stroke-linejoin="miter"/>
<path d="M650.5,218.5 L691,218.5 L691,245 L650.5,245 Z" fill="#808081" stroke="#111" stroke-width="1.6" stroke-linejoin="miter"/>
<path d="M462,245 L630,245 L630,267.5 L462,267.5 Z" fill="url(#gNeck)" stroke="#111" stroke-width="1.5" stroke-linejoin="miter"/>
<path d="M436,267.2 L656,267.2 L675,291.5 L417,291.5 Z" fill="url(#gCone)" stroke="#111" stroke-width="1.6" stroke-linejoin="miter"/>
<path d="M359.5,466 L359.5,385 L376.5,385 L390,379.5 L399.5,384.5 L383,397.5 L399.5,409 L399.5,466 Z" fill="url(#gLipL)" stroke="#111" stroke-width="1.4" stroke-linejoin="miter"/>
<path d="M714.5,385 L732,385 L732,466 L690,466 L692,421.8 L692,409.5 L711,409.5 L692.5,398 Z" fill="url(#gLipR)" stroke="none"/>
<path d="M714.5,385 L732,385" fill="none" stroke="#111" stroke-width="1.4" stroke-linejoin="miter"/>
<path d="M398,306 L376.5,318 L399.5,331.5 L377,344.5 L399.5,357.5 L377,371 L399.5,384.5 L383,397.5 L399.5,409 L399.5,466" fill="none" stroke="#111" stroke-width="1.5" stroke-linejoin="miter"/>
<path d="M692,318 L715,331.5 L692.5,344.5 L715,358 L692.5,371 L714.5,385 L692.5,398 L711,409.5 L692,409.5 L692,421.8" fill="none" stroke="#111" stroke-width="1.5" stroke-linejoin="miter"/>
<path d="M428,291.5 L664.5,291.5 L664.5,318 L428,318 Z" fill="url(#gWash)" stroke="#111" stroke-width="1.6" stroke-linejoin="miter"/>
<path d="M399.5,291.5 L428,291.5 L428,318 L399.5,318 Z" fill="#808081" stroke="#111" stroke-width="1.6" stroke-linejoin="miter"/>
<path d="M398,291.5 L398,318" fill="none" stroke="#111" stroke-width="2.2" stroke-linejoin="miter"/>
<path d="M664.5,291.5 L692,291.5 L692,318 L664.5,318 Z" fill="#808081" stroke="#111" stroke-width="1.6" stroke-linejoin="miter"/>
<path d="M692,291.5 L715,305 L692,318" fill="none" stroke="#111" stroke-width="1.5" stroke-linejoin="miter"/>
<path d="M410,318.5 L468.5,318.5 L477.5,318.5 L477.5,354.2 L466,354.2 L466,402.5 L414.5,402.5 L414.5,324 Z" fill="url(#gWallL)" stroke="#111" stroke-width="1.4" stroke-linejoin="miter"/>
<path d="M414.5,324 L477.5,324" fill="none" stroke="#111" stroke-width="1.3" stroke-linejoin="miter"/>
<path d="M614.5,318.5 L682,318.5 L678,324 L678,402.5 L626.5,402.5 L626.5,354.2 L614.5,354.2 Z" fill="url(#gWallR)" stroke="#111" stroke-width="1.4" stroke-linejoin="miter"/>
<path d="M614.5,324 L678,324" fill="none" stroke="#111" stroke-width="1.3" stroke-linejoin="miter"/>
<path d="M466,354.2 L477.5,354.2 L477.5,402.5 L466,402.5 Z" fill="url(#gGap)" stroke="none"/>
<path d="M461.5,402.5 L477.5,402.5 L477.5,511 L461.5,511 Z" fill="url(#gGap)" stroke="none"/>
<path d="M614.5,354.2 L626.5,354.2 L626.5,402.5 L614.5,402.5 Z" fill="#D3B676" stroke="none"/>
<path d="M626.5,354.2 L626.5,402.5" fill="none" stroke="#111" stroke-width="1.4" stroke-linejoin="miter"/>
<path d="M419,402.5 L461.5,402.5 L461.5,543.4 L419,543.4 Z" fill="url(#gTube)" stroke="#111" stroke-width="1.4" stroke-linejoin="miter"/>
<path d="M477.5,354.2 L614.5,354.2 L614.5,511 L477.5,511 Z" fill="url(#gCav)" stroke="#111" stroke-width="1.4" stroke-linejoin="miter"/>
<path d="M614.5,421.8 L690,421.8 A39.8,39.8 0 0 0 693.5,481 L693.5,482.5 L614.5,482.5 Z" fill="url(#gPort)"/>
<path d="M614.5,421.8 L692,421.8" fill="none" stroke="#111" stroke-width="1.4" stroke-linejoin="miter"/>
<path d="M614.5,482.5 L693.5,482.5" fill="none" stroke="#111" stroke-width="1.4" stroke-linejoin="miter"/>
<path d="M614.5,421.8 L614.5,482.5" fill="none" stroke="#111" stroke-width="1.4" stroke-linejoin="miter"/>
<path d="M690,421.8 A39.8,39.8 0 0 0 681.9,466 L732,466 L732,421.8 Z" fill="url(#gLipR)"/>
<path d="M690,421.8 A39.8,39.8 0 0 0 681.9,466" fill="none" stroke="#111" stroke-width="1.4"/>
<path d="M732,385 L732,466" fill="none" stroke="#111" stroke-width="1.4" stroke-linejoin="miter"/>
<path d="M416.5,543.4 L676.7,543.4 L648,609 L445,609 Z" fill="url(#gFun)" stroke="#111" stroke-width="1.4" stroke-linejoin="miter"/>
<path d="M445,609 L648,609 L648,639 L445,639 Z" fill="url(#gFun)" stroke="#111" stroke-width="1.4" stroke-linejoin="miter"/>
<path d="M445,639 L648,639 L668.7,706 L423,706 Z" fill="url(#gFun)" stroke="#111" stroke-width="1.4" stroke-linejoin="miter"/>
<g transform="translate(0,-33)">
<path d="M477.5,354.6 L614.5,354.6 L614.5,476 L599,493 L493,493 L477.5,476 Z" fill="#E4E4E6" stroke="#111" stroke-width="1.4" stroke-linejoin="miter"/>
<path d="M584.8,354.6 L614.5,354.6 L614.5,476 L584.8,476 Z" fill="#D2D2D4" stroke="none"/>
<path d="M584.8,476 L614.5,476 L599,493 L584.8,493 Z" fill="#D2D2D4" stroke="none"/>
<path d="M614.5,354.6 L614.5,476 L599,493" fill="none" stroke="#111" stroke-width="1.4" stroke-linejoin="miter"/>
<path d="M477.5,369.3 L533,369.3 L533,493 L493,493 L477.5,476 Z" fill="#E6E6E8" stroke="#111" stroke-width="1.4" stroke-linejoin="miter"/>
<path d="M533,354.6 L546,354.6 L546,493 L533,493 Z" fill="#E8E8EA" stroke="#111" stroke-width="1.4" stroke-linejoin="miter"/>
<path d="M533,476 L546,476" fill="none" stroke="#111" stroke-width="1.3" stroke-linejoin="miter"/>
<path d="M546,364.7 L584.8,364.7 L584.8,493 L546,493 Z" fill="url(#gPin)" stroke="#111" stroke-width="1.4" stroke-linejoin="miter"/>
<path d="M546,345.8 L584.8,364.7 L546,364.7 Z" fill="url(#gPinTop)" stroke="#111" stroke-width="1.4" stroke-linejoin="miter"/>
<path d="M468.7,319.4 L623.8,319.4 L629.6,326.3 L463,326.3 Z" fill="url(#gPcap)" stroke="#111" stroke-width="1.4" stroke-linejoin="miter"/>
<path d="M463,326.3 L629.6,326.3 L629.6,335.5 L463,335.5 Z" fill="url(#gPcap)" stroke="#111" stroke-width="1.4" stroke-linejoin="miter"/>
<path d="M463,335.5 L546,335.5 L546,354.6 L463,354.6 Z" fill="url(#gPleft)" stroke="#111" stroke-width="1.4" stroke-linejoin="miter"/>
<path d="M546,335.5 L583.6,335.5 L583.6,354.6 L584.8,364.7 L546,345.8 Z" fill="#C6C6C8" stroke="none"/>
<path d="M546,335.5 L546,364.7" fill="none" stroke="#111" stroke-width="1.4" stroke-linejoin="miter"/>
<path d="M546,345.8 L584.8,364.7" fill="none" stroke="#111" stroke-width="1.4" stroke-linejoin="miter"/>
<path d="M583.6,335.5 L629.6,335.5 L629.6,354.6 L583.6,354.6 Z" fill="#808081" stroke="#111" stroke-width="1.4" stroke-linejoin="miter"/>
</g>
<path d="M340.5,147.5 L361,127 L731,127 L751.5,147.5 L751.5,456 Q751.5,466 741.5,466 L681.9,466 A39.8,39.8 0 0 0 693.5,481 L693.5,519 A36.3,35.5 0 0 1 693.5,590 L693.5,600 L717.3,611.5 L694,625 L717.3,638.6 L694,652 L717.3,665.5 L694,679 L717.3,692 L694,706 L398.5,706 L398.5,692 L375.5,679 L398.5,665.5 L375.5,652 L398.5,638 L375.5,624 L398.5,610 L398.5,590 A35,35.5 0 0 1 398.5,519 L398.5,466 L350.5,466 Q340.5,466 340.5,456 Z" fill="none" stroke="#000" stroke-width="4.2" stroke-linejoin="round"/></g>
<path d="M1151.77,52.6 L1104.08,99.1 L1132.9,99.1 L1132.9,173.9 L1171.3,173.9 L1171.3,99.1 L1197.35,99.1 Z" fill="#FFFFFF" fill-opacity="1" stroke="#00C2F2" stroke-width="3.4" stroke-linejoin="miter" stroke-miterlimit="8"/>
<path d="M1100.14,158.56 L1100.35,161.77 L1100.5,163.95 L1100.68,166.55 L1100.84,169.38 L1100.94,172.27 L1100.95,175.02 L1100.87,177.66 L1100.74,180.33 L1100.55,183.05 L1100.3,185.78 L1100,188.52 L1099.63,191.24 L1099.21,193.94 L1098.74,196.64 L1098.21,199.35 L1097.61,202.06 L1096.94,204.77 L1096.19,207.45 L1095.42,210.04 L1094.66,212.55 L1093.82,215.07 L1092.82,217.69 L1091.59,220.5 L1090.06,223.57 L1088.16,226.99 L1085.93,230.71 L1083.49,234.6 L1080.94,238.52 L1078.4,242.34 L1075.95,245.94 L1073.58,249.24 L1071.21,252.3 L1068.87,255.23 L1066.55,258.17 L1064.26,261.27 L1061.99,264.68 L1059.67,268.53 L1057.29,272.71 L1054.91,277.08 L1052.6,281.49 L1050.44,285.81 L1048.5,289.89 L1046.76,293.74 L1045.19,297.47 L1043.76,301.1 L1042.45,304.67 L1041.27,308.18 L1040.18,311.67 L1039.23,315.01 L1038.42,318.14 L1037.73,321.21 L1037.12,324.39 L1036.57,327.84 L1036.04,331.7 L1035.53,336.39 L1035.08,341.9 L1034.68,347.68 L1034.34,353.18 L1034.06,357.87 L1034.05,358.09 L1054.84,345.8 L1054.92,345.03 L1055.14,342.86 L1055.4,340.25 L1055.69,337.36 L1056.02,334.34 L1056.36,331.32 L1056.7,328.25 L1057.03,325 L1057.39,321.58 L1057.82,318.06 L1058.34,314.48 L1058.98,310.89 L1059.72,307.29 L1060.53,303.62 L1061.43,299.9 L1062.45,296.14 L1063.62,292.36 L1064.96,288.6 L1066.54,284.82 L1068.34,281.01 L1070.27,277.23 L1072.25,273.5 L1074.2,269.89 L1076.04,266.43 L1077.73,263.19 L1079.33,260.14 L1080.9,257.18 L1082.54,254.2 L1084.31,251.09 L1086.29,247.74 L1088.62,244.03 L1091.25,240.05 L1094,235.97 L1096.69,231.94 L1099.14,228.13 L1101.16,224.7 L1102.74,221.67 L1104.02,218.92 L1105.08,216.36 L1105.99,213.91 L1106.82,211.48 L1107.63,209 L1108.39,206.59 L1109.03,204.33 L1109.58,202.13 L1110.07,199.86 L1110.53,197.43 L1110.97,194.75 L1111.4,191.71 L1111.8,188.36 L1112.17,184.85 L1112.49,181.34 L1112.75,177.97 L1112.95,174.91 L1113.07,172.03 L1113.1,169.16 L1113.08,166.42 L1113.02,163.95 L1112.97,161.87 L1112.92,158.55 L1121.37,159.05 L1105.07,146.16 L1090.61,159.09 Z" fill="#FFFFFF" fill-opacity="0.8" stroke="#00C2F2" stroke-width="3.3" stroke-linejoin="miter" stroke-miterlimit="8"/>
<path d="M1091.25,356.75 L1091.25,347.37 L1076.2,362.9 L1091.25,378.43 L1091.25,368.87 L1094.2,368.84 L1096.05,368.81 L1098.25,368.78 L1100.58,368.77 L1102.86,368.79 L1104.83,368.85 L1106.5,368.86 L1108.12,368.78 L1109.79,368.74 L1111.54,368.85 L1113.35,369.3 L1115.1,370.21 L1116.73,371.5 L1118.28,373.06 L1119.75,374.88 L1121.13,376.92 L1122.37,379.17 L1123.44,381.6 L1124.33,384.21 L1125.06,387.02 L1125.66,390 L1126.16,393.14 L1126.58,396.43 L1126.94,399.84 L1127.22,403.25 L1127.39,406.61 L1127.48,410.11 L1127.53,413.95 L1127.58,418.34 L1127.65,423.48 L1127.73,429.91 L1127.78,437.58 L1127.83,445.8 L1127.89,453.89 L1127.99,461.16 L1128.15,466.94 L1128.32,470.99 L1128.49,473.78 L1128.68,475.72 L1128.94,477.26 L1129.33,478.91 L1129.89,481.07 L1130.66,483.76 L1131.63,486.66 L1132.71,489.63 L1133.85,492.5 L1134.96,495.1 L1135.98,497.27 L1136.84,498.92 L1137.59,500.16 L1138.29,501.11 L1139.04,501.93 L1139.93,502.77 L1141.07,503.74 L1142.34,504.82 L1143.63,505.87 L1144.99,506.86 L1146.53,507.79 L1148.33,508.65 L1150.47,509.42 L1153.35,510.12 L1156.99,510.76 L1160.95,511.34 L1164.79,511.84 L1168.1,512.25 L1168.27,512.27 L1165.42,491.68 L1164.33,491.48 L1162.74,491.17 L1160.97,490.76 L1159.13,490.22 L1157.36,489.52 L1155.66,488.75 L1153.88,487.92 L1152.02,486.95 L1150.13,485.77 L1148.28,484.33 L1146.56,482.59 L1144.96,480.54 L1143.44,478.21 L1142,475.69 L1140.66,473.02 L1139.44,470.3 L1138.36,467.58 L1137.42,464.94 L1136.62,462.31 L1135.94,459.62 L1135.35,456.77 L1134.83,453.66 L1134.36,450.19 L1133.98,446.29 L1133.72,442.05 L1133.53,437.57 L1133.35,432.94 L1133.14,428.26 L1132.85,423.61 L1132.49,418.83 L1132.1,413.82 L1131.67,408.74 L1131.21,403.76 L1130.71,399.03 L1130.16,394.72 L1129.63,390.82 L1129.11,387.25 L1128.57,383.96 L1127.93,380.88 L1127.14,377.95 L1126.16,375.09 L1124.92,372.2 L1123.48,369.31 L1121.88,366.54 L1120.2,364.02 L1118.52,361.88 L1116.93,360.26 L1115.49,359.25 L1114.08,358.68 L1112.55,358.39 L1110.84,358.25 L1108.9,358.15 L1106.81,357.94 L1104.49,357.65 L1101.88,357.42 L1099.16,357.23 L1096.57,357.07 L1094.37,356.95 Z" fill="#FFFFFF" fill-opacity="0.8" stroke="#00C2F2" stroke-width="3.3" stroke-linejoin="miter" stroke-miterlimit="8"/>
<path d="M1189.45,492.72 L1189.45,482.82 L1176.69,500.55 L1193.5,513.12 L1191.85,503.1 L1193.89,502.38 L1194.86,502.04 L1196.05,501.61 L1197.44,501.13 L1199.03,500.59 L1200.79,500.03 L1202.7,499.4 L1204.82,498.67 L1207.15,497.87 L1209.71,497.08 L1212.49,496.33 L1215.48,495.68 L1218.68,495.12 L1222.09,494.61 L1225.7,494.14 L1229.49,493.74 L1233.44,493.41 L1237.51,493.15 L1241.64,492.95 L1245.86,492.8 L1250.24,492.71 L1254.86,492.72 L1259.79,492.86 L1265.11,493.15 L1270.87,493.62 L1277,494.23 L1283.44,494.97 L1290.1,495.81 L1296.89,496.72 L1303.73,497.67 L1310.71,498.7 L1317.89,499.83 L1325.2,501.04 L1332.58,502.28 L1339.95,503.5 L1347.26,504.67 L1354.53,505.82 L1361.83,506.99 L1369.12,508.14 L1376.4,509.25 L1383.63,510.3 L1390.81,511.26 L1398.41,512.16 L1406.56,513.02 L1414.68,513.82 L1422.21,514.53 L1428.56,515.12 L1431.35,515.38 L1431.35,492.28 L1428.43,492.34 L1422.09,492.48 L1414.56,492.64 L1406.41,492.76 L1398.22,492.82 L1390.57,492.75 L1383.35,492.56 L1376.08,492.27 L1368.78,491.92 L1361.47,491.5 L1354.17,491.04 L1346.88,490.55 L1339.56,490.01 L1332.17,489.42 L1324.79,488.79 L1317.47,488.12 L1310.3,487.43 L1303.33,486.74 L1296.47,485.99 L1289.68,485.15 L1283.03,484.29 L1276.63,483.48 L1270.54,482.78 L1264.87,482.24 L1259.63,481.89 L1254.78,481.66 L1250.23,481.53 L1245.9,481.49 L1241.73,481.5 L1237.62,481.55 L1233.59,481.61 L1229.7,481.71 L1225.98,481.86 L1222.46,482.1 L1219.16,482.44 L1216.12,482.92 L1213.37,483.59 L1210.85,484.44 L1208.48,485.43 L1206.23,486.46 L1204.04,487.46 L1201.9,488.34 L1199.79,489.1 L1197.75,489.83 L1195.84,490.5 L1194.13,491.1 L1192.7,491.59 Z" fill="#FFFFFF" fill-opacity="0.8" stroke="#00C2F2" stroke-width="3.3" stroke-linejoin="miter" stroke-miterlimit="8"/>
</svg>
</body></html>
